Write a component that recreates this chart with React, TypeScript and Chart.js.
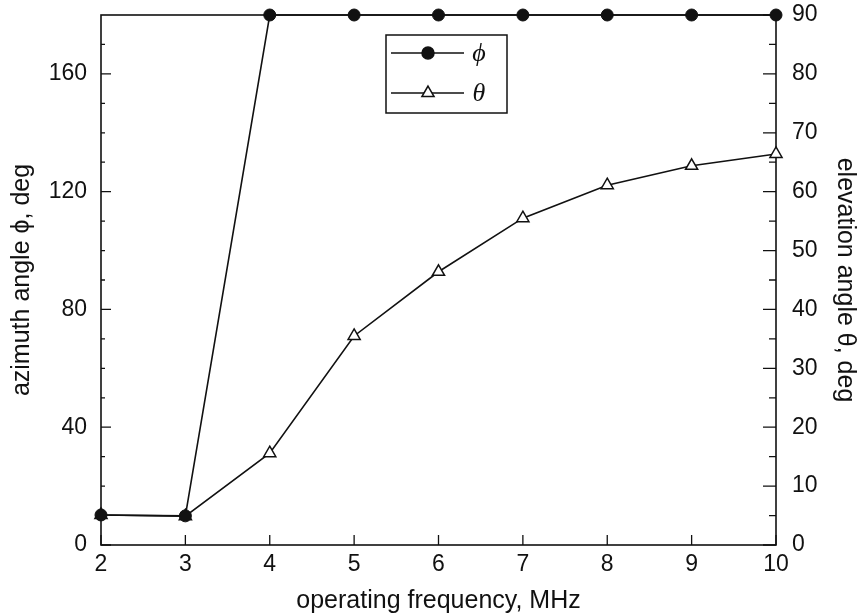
import React, { useEffect, useRef } from 'react';
import { Chart, registerables } from 'chart.js';

Chart.register(...registerables);

// ---- data ----
const frequencies = [2, 3, 4, 5, 6, 7, 8, 9, 10];
const azimuthPhi = [10.2, 9.9, 180, 180, 180, 180, 180, 180, 180];
const elevationTheta = [5.1, 4.9, 15.6, 35.5, 46.4, 55.5, 61.1, 64.4, 66.4];

const xTicks = [2, 3, 4, 5, 6, 7, 8, 9, 10];
const leftTicks = [0, 40, 80, 120, 160];
const leftMinorTicks = [10, 20, 30, 50, 60, 70, 90, 100, 110, 130, 140, 150, 170];
const rightTicks = [0, 10, 20, 30, 40, 50, 60, 70, 80, 90];
const rightMinorTicks = [5, 15, 25, 35, 45, 55, 65, 75, 85];

const xTitle = 'operating frequency, MHz';
const leftTitle = 'azimuth angle \u03D5, deg';
const rightTitle = 'elevation angle \u03B8, deg';
const legendLabels = ['\u03D5', '\u03B8'];

const SANS = '"Liberation Sans", Arial, Helvetica, sans-serif';
const INK = '#111';

function drawMarker(ctx: CanvasRenderingContext2D, style: string, x: number, y: number, r: number, fill: string) {
  ctx.beginPath();
  if (style === 'circle') {
    ctx.arc(x, y, r, 0, Math.PI * 2);
  } else {
    for (let k = 0; k < 3; k++) {
      const a = k * (2 * Math.PI / 3);
      const px = x + Math.sin(a) * r;
      const py = y - Math.cos(a) * r;
      if (k === 0) ctx.moveTo(px, py); else ctx.lineTo(px, py);
    }
    ctx.closePath();
  }
  ctx.fillStyle = fill;
  ctx.fill();
  ctx.stroke();
}

const framePlugin = {
  id: 'frameTicks',
  beforeDatasetsDraw(chart: any) {
    const { ctx, chartArea: a, scales } = chart;
    ctx.save();
    ctx.strokeStyle = INK;
    ctx.lineWidth = 1.6;
    ctx.strokeRect(a.left, a.top, a.right - a.left, a.bottom - a.top);
    ctx.lineWidth = 1.3;
    ctx.beginPath();
    xTicks.forEach((v) => {
      const px = scales.x.getPixelForValue(v);
      ctx.moveTo(px, a.bottom);
      ctx.lineTo(px, a.bottom - 10);
    });
    leftTicks.forEach((v) => {
      const py = scales.y.getPixelForValue(v);
      ctx.moveTo(a.left, py);
      ctx.lineTo(a.left + 10, py);
    });
    leftMinorTicks.forEach((v) => {
      const py = scales.y.getPixelForValue(v);
      ctx.moveTo(a.left, py);
      ctx.lineTo(a.left + 4, py);
    });
    rightTicks.forEach((v) => {
      const py = scales.y1.getPixelForValue(v);
      ctx.moveTo(a.right, py);
      ctx.lineTo(a.right - 13, py);
    });
    rightMinorTicks.forEach((v) => {
      const py = scales.y1.getPixelForValue(v);
      ctx.moveTo(a.right, py);
      ctx.lineTo(a.right - 7, py);
    });
    ctx.stroke();
    ctx.restore();
  },
  afterDraw(chart: any) {
    const { ctx, chartArea: a } = chart;
    const bx = a.left + 285;
    const by = a.top + 20;
    const bw = 121;
    const bh = 78;
    ctx.save();
    ctx.fillStyle = '#fff';
    ctx.fillRect(bx, by, bw, bh);
    ctx.strokeStyle = INK;
    ctx.lineWidth = 1.5;
    ctx.strokeRect(bx, by, bw, bh);
    chart.data.datasets.forEach((ds: any, i: number) => {
      const ry = by + 18 + i * 40;
      ctx.strokeStyle = INK;
      ctx.lineWidth = 1.6;
      ctx.beginPath();
      ctx.moveTo(bx + 5, ry);
      ctx.lineTo(bx + 78, ry);
      ctx.stroke();
      ctx.lineWidth = 1.5;
      drawMarker(ctx, ds.pointStyle, bx + 42, ry, ds.pointRadius, ds.pointBackgroundColor);
      ctx.fillStyle = INK;
      ctx.font = 'italic 26px "Liberation Serif", "DejaVu Serif", serif';
      ctx.textAlign = 'center';
      ctx.textBaseline = 'middle';
      ctx.fillText(legendLabels[i], bx + 93, ry + 1);
    });
    ctx.restore();
  },
};

export default function App() {
  const canvasRef = useRef<HTMLCanvasElement | null>(null);

  useEffect(() => {
    document.body.style.margin = '0';
    document.body.style.background = '#fff';
    const canvas = canvasRef.current;
    if (!canvas) return;

    const tickFont = { family: SANS, size: 23 };
    const titleFont = { family: SANS, size: 25 };

    const chart = new Chart(canvas, {
      type: 'line',
      data: {
        datasets: [
          {
            label: legendLabels[0],
            data: frequencies.map((f, i) => ({ x: f, y: azimuthPhi[i] })),
            yAxisID: 'y',
            borderColor: INK,
            borderWidth: 1.6,
            pointStyle: 'circle',
            pointRadius: 6,
            pointBackgroundColor: INK,
            pointBorderColor: INK,
            pointBorderWidth: 1,
            tension: 0,
            clip: false,
          } as any,
          {
            label: legendLabels[1],
            data: frequencies.map((f, i) => ({ x: f, y: elevationTheta[i] })),
            yAxisID: 'y1',
            borderColor: INK,
            borderWidth: 1.6,
            pointStyle: 'triangle',
            pointRadius: 7,
            pointBackgroundColor: '#fff',
            pointBorderColor: INK,
            pointBorderWidth: 1.5,
            tension: 0,
            clip: false,
          } as any,
        ],
      },
      options: {
        animation: false,
        responsive: false,
        devicePixelRatio: 1,
        layout: { padding: { top: 15, left: 0, right: 0, bottom: 0 } },
        plugins: {
          legend: { display: false },
          tooltip: { enabled: false },
        },
        scales: {
          x: {
            type: 'linear',
            position: 'bottom',
            min: 2,
            max: 10,
            afterBuildTicks: (s: any) => { s.ticks = xTicks.map((v) => ({ value: v })); },
            afterFit: (s: any) => { s.height = 71; s.paddingLeft = 0; s.paddingRight = 0; },
            ticks: { font: tickFont, color: INK, padding: 6, autoSkip: false, maxRotation: 0 },
            grid: { display: false, drawTicks: false },
            border: { display: false },
            title: { display: true, text: xTitle, font: titleFont, color: INK, padding: { top: 0, bottom: 0 } },
          },
          y: {
            type: 'linear',
            position: 'left',
            min: 0,
            max: 180,
            afterBuildTicks: (s: any) => { s.ticks = leftTicks.map((v) => ({ value: v })); },
            afterFit: (s: any) => { s.width = 101; s.paddingTop = 0; s.paddingBottom = 0; },
            ticks: { font: tickFont, color: INK, padding: 14 },
            grid: { display: false, drawTicks: false },
            border: { display: false },
            title: { display: true, text: leftTitle, font: titleFont, color: INK, padding: { top: 7, bottom: 0 } },
          },
          y1: {
            type: 'linear',
            position: 'right',
            min: 0,
            max: 90,
            afterBuildTicks: (s: any) => { s.ticks = rightTicks.map((v) => ({ value: v })); },
            afterFit: (s: any) => { s.width = 85; s.paddingTop = 0; s.paddingBottom = 0; },
            ticks: { font: tickFont, color: INK, padding: 16 },
            grid: { display: false, drawTicks: false },
            border: { display: false },
            title: { display: true, text: rightTitle, font: titleFont, color: INK, padding: { top: 1, bottom: 0 } },
          },
        },
      } as any,
      plugins: [framePlugin],
    });

    return () => chart.destroy();
  }, []);

  return (
    <div style={{ width: 861, height: 616, background: '#fff' }}>
      <canvas ref={canvasRef} width={861} height={616} style={{ display: 'block', width: 861, height: 616 }} />
    </div>
  );
}
